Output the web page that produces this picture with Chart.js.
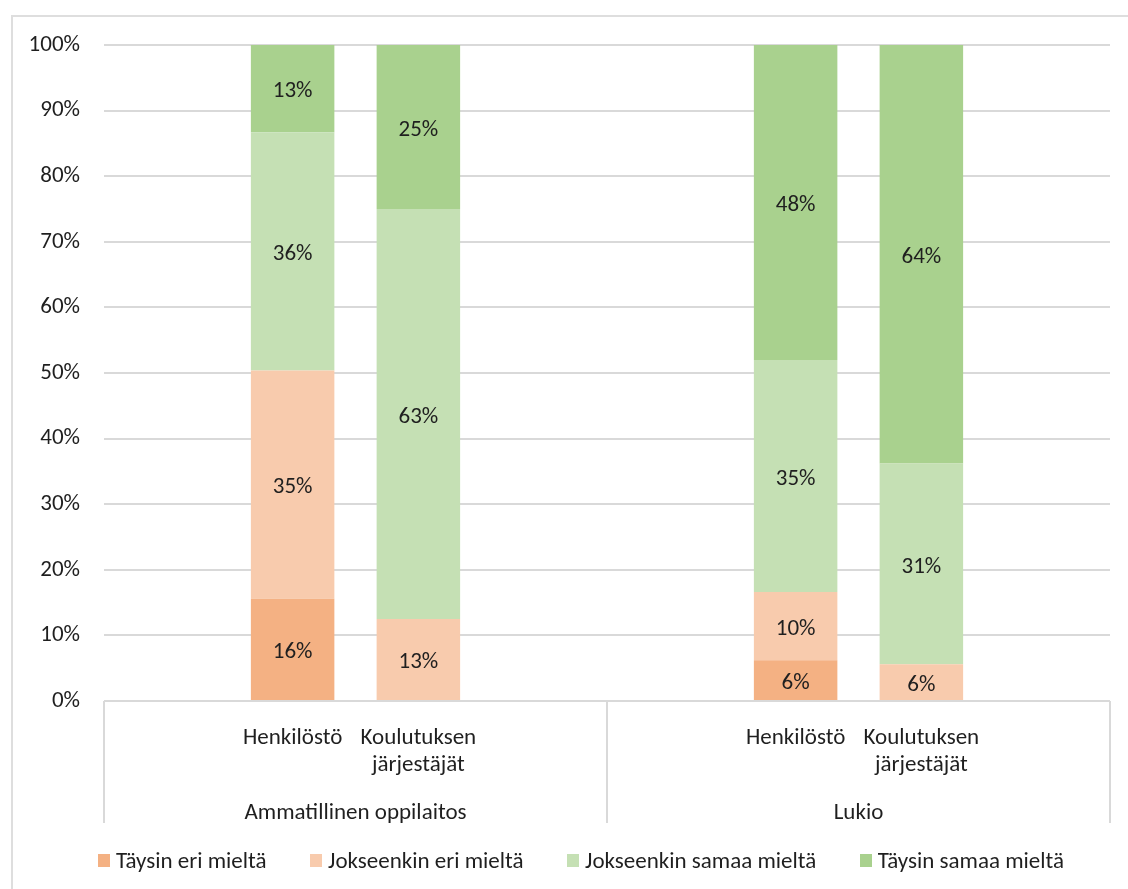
<!DOCTYPE html>
<html lang="fi">
<head>
<meta charset="utf-8">
<title>Ammatillinen oppilaitos / Lukio</title>
<script src="https://cdn.jsdelivr.net/npm/chart.js@4.4.1/dist/chart.umd.min.js"></script>
<style>
  html, body { margin: 0; padding: 0; background: #fff; overflow: hidden; }
  #frame { position: absolute; left: 11px; top: 15px; width: 1150px; height: 900px; border: 2px solid #dedede; box-sizing: border-box; }
  #wrap { position: absolute; left: 0; top: 0; width: 1128px; height: 889px; }
  #legend { position: absolute; left: 98px; top: 846px; width: 966px; height: 28px;
            display: flex; justify-content: space-between; align-items: center;
            font: 23px Carlito, Lato, sans-serif; color: #1f1f1f; }
  #legend .item { display: flex; align-items: center; white-space: nowrap; line-height: 28px; }
  #legend .box { width: 12px; height: 13px; margin-right: 6px; }
</style>
</head>
<body>
<div id="frame"></div>
<div id="wrap"><canvas id="chart" width="1128" height="889"></canvas></div>
<div id="legend"></div>

<script>
// pääryhmät ja niiden alaluokat (tyhjät paikat reunoilla kuten Excelissä)
const groups = ['Ammatillinen oppilaitos', 'Lukio'];
const categories = ['', 'Henkilöstö', ['Koulutuksen', 'järjestäjät'], '', '', 'Henkilöstö', ['Koulutuksen', 'järjestäjät'], ''];

const seriesNames = ['Täysin eri mieltä', 'Jokseenkin eri mieltä', 'Jokseenkin samaa mieltä', 'Täysin samaa mieltä'];
const seriesColors = ['#f4b183', '#f8cbad', '#c5e0b4', '#a9d18e'];

// prosenttiosuudet
const taysinEri       = [null, 15.6, 0,    null, null, 6.2,  0,    null];
const jokseenkinEri   = [null, 34.8, 12.5, null, null, 10.4, 5.6,  null];
const jokseenkinSamaa = [null, 36.3, 62.5, null, null, 35.4, 30.6, null];
const taysinSamaa     = [null, 13.3, 25.0, null, null, 48.0, 63.8, null];

const yMin = 0, yMax = 100, yStep = 10;

const FONT = 'Carlito, Lato, sans-serif';
const TEXT = '#1f1f1f';
const LINE = '#d9d9d9';

// arvot palkkien keskelle
const barLabels = {
  id: 'barLabels',
  afterDatasetsDraw(chart) {
    const ctx = chart.ctx;
    ctx.save();
    ctx.font = '23px ' + FONT;
    ctx.fillStyle = TEXT;
    ctx.textAlign = 'center';
    ctx.textBaseline = 'middle';
    chart.data.datasets.forEach((ds, i) => {
      chart.getDatasetMeta(i).data.forEach((bar, j) => {
        const v = ds.data[j];
        if (!v) return;
        ctx.fillText(Math.round(v) + '%', bar.x, (bar.y + bar.base) / 2 + 3);
      });
    });
    ctx.restore();
  }
};

// ryhmien väliset pystyviivat x-akselin alle
const groupLines = {
  id: 'groupLines',
  afterDraw(chart) {
    const x = chart.scales.x, x2 = chart.scales.x2;
    const half = (x.getPixelForValue(1) - x.getPixelForValue(0)) / 2;
    const xs = [x.getPixelForValue(0) - half, x.getPixelForValue(3) + half, x.getPixelForValue(7) + half];
    const ctx = chart.ctx;
    ctx.save();
    ctx.strokeStyle = LINE;
    ctx.lineWidth = 2;
    xs.forEach(px => {
      ctx.beginPath();
      ctx.moveTo(px, chart.chartArea.bottom);
      ctx.lineTo(px, x2.bottom);
      ctx.stroke();
    });
    ctx.restore();
  }
};

const allSeries = [taysinEri, jokseenkinEri, jokseenkinSamaa, taysinSamaa];

new Chart(document.getElementById('chart'), {
  type: 'bar',
  data: {
    labels: categories,
    datasets: allSeries.map((d, i) => ({
      label: seriesNames[i],
      data: d,
      backgroundColor: seriesColors[i],
      borderWidth: 0,
      barPercentage: 0.664,
      categoryPercentage: 1
    }))
  },
  options: {
    responsive: false,
    animation: false,
    layout: { padding: { left: 0, right: 18, top: 45, bottom: 66 } },
    plugins: {
      tooltip: { enabled: false },
      legend: { display: false }
    },
    scales: {
      x: {
        stacked: true,
        grid: { display: false },
        border: { display: false },
        ticks: {
          font: { family: FONT, size: 23, lineHeight: 1.2 },
          color: TEXT,
          padding: 15,
          maxRotation: 0,
          autoSkip: false
        },
        afterFit(s) { s.height = 89; }
      },
      x2: {
        type: 'category',
        labels: groups,
        offset: true,
        position: 'bottom',
        weight: 1,
        grid: { display: false },
        border: { display: false },
        ticks: {
          font: { family: FONT, size: 23 },
          color: TEXT,
          padding: 1,
          maxRotation: 0
        },
        afterFit(s) { s.height = 33; }
      },
      y: {
        stacked: true,
        min: yMin,
        max: yMax,
        grid: { color: LINE, lineWidth: 2, drawTicks: false },
        border: { display: false },
        ticks: {
          stepSize: yStep,
          font: { family: FONT, size: 23 },
          color: TEXT,
          padding: 24,
          callback: v => v + '%'
        },
        afterFit(s) { s.width = 104; }
      }
    }
  },
  plugins: [barLabels, groupLines]
});

// selite HTML:nä sarjojen nimistä ja väreistä
const legendEl = document.getElementById('legend');
seriesNames.forEach((name, i) => {
  const item = document.createElement('span');
  item.className = 'item';
  const box = document.createElement('span');
  box.className = 'box';
  box.style.background = seriesColors[i];
  item.appendChild(box);
  item.appendChild(document.createTextNode(name));
  legendEl.appendChild(item);
});
</script>
</body>
</html>
